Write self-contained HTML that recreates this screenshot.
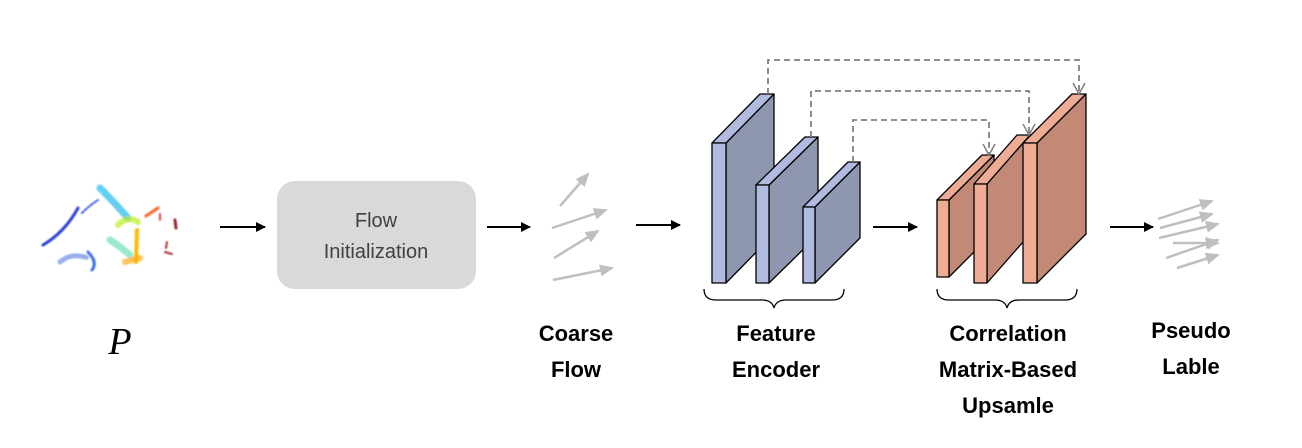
<!DOCTYPE html>
<html><head><style>
body{margin:0;background:#fff;}
svg text{font-family:"Liberation Sans",sans-serif;}
</style></head><body>
<svg width="1302" height="443" viewBox="0 0 1302 443" xmlns="http://www.w3.org/2000/svg">
<defs>
<marker id="ab" markerWidth="10" markerHeight="10" refX="9" refY="5" orient="auto" markerUnits="userSpaceOnUse"><path d="M0,0 L10,5 L0,10 z" fill="#000"/></marker>
<marker id="ag" markerWidth="14" markerHeight="12" refX="12" refY="6" orient="auto" markerUnits="userSpaceOnUse"><path d="M0,0 L14,6 L0,12 z" fill="#bfbfbf"/></marker>
<marker id="ad" markerWidth="14" markerHeight="14" refX="12" refY="7" orient="auto" markerUnits="userSpaceOnUse"><path d="M1,1 L12,7 L1,13" fill="none" stroke="#808080" stroke-width="1.5"/></marker>
<filter id="bl"><feGaussianBlur stdDeviation="0.8"/></filter>
</defs>

<!-- point cloud -->
<g filter="url(#bl)" fill="none" stroke-linecap="round">
<path d="M43,245 Q65,232 78,208" stroke="#2a3fe0" stroke-width="3"/>
<path d="M82,213 Q90,205 98,200" stroke="#3a5cf0" stroke-width="2" stroke-dasharray="2 2"/>
<path d="M60,262 Q72,252 88,258" stroke="#5577dd" stroke-width="5" stroke-dasharray="1 2" opacity="0.6"/>
<path d="M88,252 Q98,262 92,270" stroke="#3a70f0" stroke-width="3"/>
<path d="M100,188 Q112,200 128,218" stroke="#22bbee" stroke-width="7" opacity="0.7"/>
<path d="M110,240 Q118,245 130,255" stroke="#55ddaa" stroke-width="7" opacity="0.6"/>
<path d="M118,225 Q128,215 138,222" stroke="#bbee22" stroke-width="6" opacity="0.7"/>
<path d="M137,230 L136,262" stroke="#ffbb00" stroke-width="4"/>
<path d="M125,262 L140,258" stroke="#ffaa11" stroke-width="6" opacity="0.7"/>
<path d="M146,216 L158,208" stroke="#ff6622" stroke-width="3"/>
<path d="M160,214 L160,220" stroke="#dd4433" stroke-width="2"/>
<path d="M175,220 L176,228" stroke="#992222" stroke-width="3"/>
<path d="M167,242 L166,248" stroke="#aa3333" stroke-width="2"/>
<path d="M165,252 L172,254" stroke="#aa3333" stroke-width="2"/>
</g>

<!-- black arrows -->
<g stroke="#000" stroke-width="2" marker-end="url(#ab)">
<line x1="220" y1="227" x2="265" y2="227"/>
<line x1="487" y1="227" x2="530" y2="227"/>
<line x1="636" y1="225" x2="680" y2="225"/>
<line x1="873" y1="227" x2="917" y2="227"/>
<line x1="1110" y1="227" x2="1153" y2="227"/>
</g>

<rect x="277" y="181" width="199" height="108" rx="18" fill="#d9d9d9"/>
<text x="376" y="227" font-size="20" fill="#404040" text-anchor="middle">Flow</text>
<text x="376" y="258" font-size="20" fill="#404040" text-anchor="middle">Initialization</text>

<!-- coarse flow arrows -->
<g stroke="#bfbfbf" stroke-width="2.5" marker-end="url(#ag)">
<line x1="560" y1="206" x2="588" y2="174"/>
<line x1="552" y1="228" x2="606" y2="210"/>
<line x1="554" y1="258" x2="598" y2="231"/>
<line x1="553" y1="280" x2="612" y2="268"/>
</g>
<!-- pseudo arrows -->
<g stroke="#bfbfbf" stroke-width="2.5" marker-end="url(#ag)">
<line x1="1158" y1="219" x2="1212" y2="201"/>
<line x1="1160" y1="228" x2="1212" y2="214"/>
<line x1="1159" y1="238" x2="1218" y2="224"/>
<line x1="1173" y1="243" x2="1218" y2="243"/>
<line x1="1166" y1="258" x2="1218" y2="240"/>
<line x1="1177" y1="268" x2="1218" y2="255"/>
</g>

<!-- blocks -->
<g stroke="#000" stroke-width="1.3" stroke-linejoin="round">
<polygon points="726,143 774,94 774,234 726,283" fill="#8e96b0"/>
<polygon points="712,143 760,94 774,94 726,143" fill="#b1bbdf"/>
<rect x="712" y="143" width="14" height="140" fill="#b1bbdf"/>
<polygon points="769,185 818,137 818,235 769,283" fill="#8e96b0"/>
<polygon points="756,185 805,137 818,137 769,185" fill="#b1bbdf"/>
<rect x="756" y="185" width="13" height="98" fill="#b1bbdf"/>
<polygon points="815,207 860,162 860,238 815,283" fill="#8e96b0"/>
<polygon points="803,207 848,162 860,162 815,207" fill="#b1bbdf"/>
<rect x="803" y="207" width="12" height="76" fill="#b1bbdf"/>
<polygon points="949,200 994,155 994,232 949,277" fill="#c28a76"/>
<polygon points="937,200 982,155 994,155 949,200" fill="#eeac94"/>
<rect x="937" y="200" width="12" height="77" fill="#eeac94"/>
<polygon points="987,184 1030,135 1030,234 987,283" fill="#c28a76"/>
<polygon points="974,184 1017,135 1030,135 987,184" fill="#eeac94"/>
<rect x="974" y="184" width="13" height="99" fill="#eeac94"/>
<polygon points="1037,143 1086,94 1086,234 1037,283" fill="#c28a76"/>
<polygon points="1023,143 1072,94 1086,94 1037,143" fill="#eeac94"/>
<rect x="1023" y="143" width="14" height="140" fill="#eeac94"/>
</g>

<!-- dashed skip lines -->
<g fill="none" stroke="#808080" stroke-width="1.8" stroke-dasharray="6 4">
<path d="M768,94 V60 H1079 V94" marker-end="url(#ad)"/>
<path d="M811,137 V91 H1029 V135" marker-end="url(#ad)"/>
<path d="M853,162 V120 H989 V155" marker-end="url(#ad)"/>
</g>

<!-- braces -->
<g fill="none" stroke="#000" stroke-width="1.3">
<path d="M704,289 Q704,300 716,300 H762 Q772,300 774,308 Q776,300 786,300 H832 Q844,300 844,289"/>
<path d="M937,289 Q937,300 949,300 H995 Q1005,300 1007,308 Q1009,300 1019,300 H1065 Q1077,300 1077,289"/>
</g>

<!-- labels -->
<g font-size="22" font-weight="bold" fill="#000" text-anchor="middle">
<text x="576" y="341">Coarse</text>
<text x="576" y="377">Flow</text>
<text x="776" y="341">Feature</text>
<text x="776" y="377">Encoder</text>
<text x="1008" y="341">Correlation</text>
<text x="1008" y="377">Matrix-Based</text>
<text x="1008" y="413">Upsamle</text>
<text x="1191" y="338">Pseudo</text>
<text x="1191" y="374">Lable</text>
</g>
<text x="120" y="354" font-size="38" font-style="italic" text-anchor="middle" style="font-family:'Liberation Serif',serif">P</text>
</svg>
</body></html>
